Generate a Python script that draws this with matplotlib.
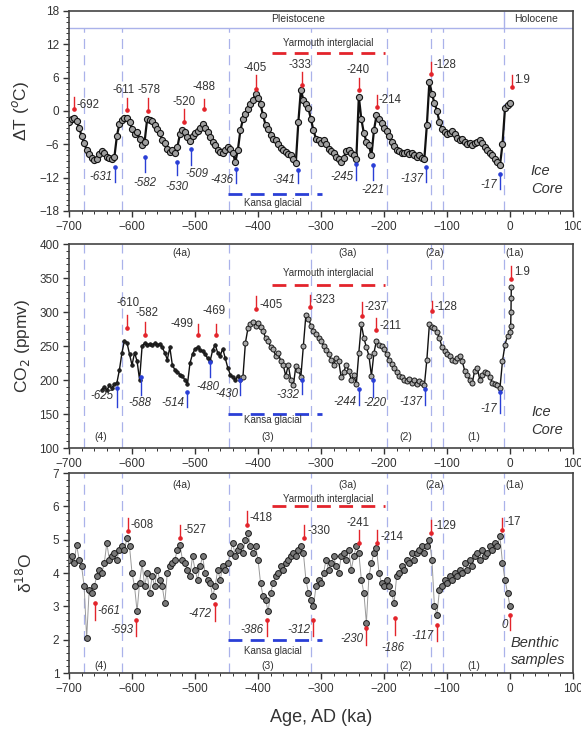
import numpy as np
import matplotlib.pyplot as plt
from matplotlib.ticker import MultipleLocator

plt.rcParams['font.family'] = ['Liberation Sans', 'DejaVu Sans']

TXT = '#333333'
RED = '#e3242b'
BLUE = '#2a3fd6'
GUIDE = '#aab2ea'

# ---- data ----
# Ice core temperature anomaly, sampled every 4 ka from -700 to 0 ka
ice_age = np.arange(-700, 1, 4)
ice_dT = [
    -2.0, -1.5, -1.2, -1.8, -3.0, -4.5, -5.8, -7.0, -7.8, -8.5,
    -8.9, -8.6, -7.8, -7.2, -7.6, -8.2, -8.5, -8.6, -8.3, -4.5,
    -2.3, -1.6, -1.2, -1.3, -2.0, -3.2, -4.2, -3.8, -5.0, -6.2,
    -5.5, -1.5, -1.6, -1.8, -2.5, -3.2, -4.0, -5.2, -5.8, -6.8,
    -7.3, -7.0, -7.6, -6.5, -4.2, -3.4, -3.8, -4.6, -5.4, -4.5,
    -4.0, -3.6, -3.0, -2.3, -3.0, -3.8, -4.6, -5.5, -6.2, -7.0,
    -7.3, -7.5, -7.0, -6.5, -6.8, -7.5, -9.2, -7.0, -3.5, -1.5,
    -0.5, 0.3, 1.2, 2.0, 3.0, 2.4, 1.2, -0.8, -2.5, -3.2,
    -4.3, -5.0, -5.2, -6.0, -6.6, -7.0, -7.4, -7.8, -8.0, -8.6,
    -9.3, -2.0, 3.8, 2.0, 1.2, 0.5, -1.5, -3.5, -5.0, -5.3,
    -5.8, -5.2, -6.0, -6.8, -7.2, -7.6, -8.2, -8.6, -9.2, -8.4,
    -7.2, -7.0, -7.6, -8.0, -8.7, 2.6, -1.5, -4.0, -5.5, -6.2,
    -8.0, -3.5, -0.8, -1.5, -2.2, -3.0, -3.6, -4.5, -5.5, -6.3,
    -7.0, -7.2, -7.5, -7.6, -7.3, -7.8, -7.6, -8.0, -8.2, -8.0,
    -8.4, -8.6, -2.5, 5.3, 3.0, 1.5, 0.0, -2.0, -3.2, -3.8,
    -4.2, -4.0, -3.6, -4.2, -4.8, -5.3, -5.0, -5.6, -6.0, -5.8,
    -6.2, -5.8, -5.5, -5.2, -5.8, -6.5, -7.0, -7.6, -8.0, -8.6,
    -9.2, -9.8, -6.0, 0.5, 1.0, 1.5,
]

# Ice core CO2, every 4 ka from -648 to 0 ka plus the modern rise
co2_age = np.concatenate([np.arange(-648, 1, 4), [1.0, 1.5, 1.8, 2.0]])
co2_ppm = [
    186, 190, 185, 192, 188, 194, 196, 215, 240, 258,
    255, 238, 222, 240, 228, 200, 250, 254, 252, 253,
    251, 254, 252, 253, 248, 240, 230, 248, 222, 215,
    212, 208, 206, 200, 194, 225, 238, 246, 248, 244,
    242, 238, 232, 228, 244, 252, 240, 236, 246, 232,
    218, 208, 204, 200, 206, 200, 204, 255, 276, 282,
    286, 280, 284, 278, 272, 262, 258, 248, 245, 236,
    240, 228, 222, 206, 222, 200, 192, 220, 215, 205,
    250, 296, 290, 280, 272, 268, 262, 258, 250, 244,
    238, 230, 222, 232, 228, 204, 212, 222, 214, 200,
    208, 194, 240, 282, 262, 248, 236, 206, 240, 258,
    252, 250, 246, 238, 230, 224, 218, 212, 206, 204,
    200, 198, 202, 196, 200, 194, 198, 196, 192, 230,
    282, 278, 276, 270, 262, 248, 242, 238, 236, 230,
    228, 232, 236, 228, 214, 208, 200, 196, 214, 218,
    200, 208, 212, 210, 205, 196, 194, 192, 188, 228,
    252, 265, 270,
    280, 300, 320, 337,
]

# Benthic d18O, every 4 ka from -700 to 0 ka
benthic_age = np.arange(-700, 1, 4)
benthic_d18o = [
    4.4, 4.5, 4.3, 4.85, 4.4, 4.2, 3.6, 2.05, 3.5, 3.4,
    3.6, 3.9, 4.1, 4.0, 4.3, 4.9, 4.4, 4.5, 4.6, 4.4,
    4.7, 4.8, 4.7, 5.05, 4.8, 4.0, 3.6, 2.85, 3.7, 4.3,
    3.6, 4.0, 3.4, 3.9, 3.6, 4.1, 3.8, 3.6, 3.1, 4.0,
    4.2, 4.3, 4.4, 4.7, 4.85, 4.4, 4.3, 4.1, 3.9, 4.5,
    4.1, 3.8, 4.2, 4.5, 4.0, 3.8, 3.7, 3.3, 3.6, 4.1,
    3.8, 4.2, 4.1, 4.3, 4.6, 4.9, 4.5, 4.7, 4.8, 4.6,
    5.0, 5.2, 4.8, 4.6, 4.8, 4.4, 3.7, 3.3, 3.2, 2.85,
    3.4, 3.7, 3.9, 4.0, 4.2, 4.1, 4.3, 4.4, 4.5, 4.6,
    4.5, 4.7, 4.8, 4.6, 3.8, 3.4, 3.2, 3.0, 3.6, 3.8,
    3.7, 4.0, 4.4, 4.1, 4.3, 4.5, 4.2, 4.0, 4.5, 4.6,
    4.4, 4.7, 4.1, 4.5, 4.8, 4.6, 3.8, 3.4, 2.5, 3.9,
    4.3, 4.6, 4.75, 4.0, 3.7, 3.6, 3.8, 3.6, 3.4, 3.1,
    3.9, 4.0, 4.2, 4.1, 4.4, 4.3, 4.6, 4.4, 4.6, 4.7,
    4.8, 4.6, 4.8, 5.0, 4.4, 3.0, 2.75, 3.5, 3.6, 3.8,
    3.7, 3.9, 3.8, 4.0, 3.9, 4.1, 4.0, 4.3, 4.1, 4.4,
    4.2, 4.5, 4.6, 4.4, 4.7, 4.5, 4.6, 4.8, 4.7, 4.9,
    4.8, 5.1, 4.3, 3.8, 3.4, 3.0,
]

guide_ages = [-676, -616, -446, -316, -196, -126, -107, -10]

# annotations: (label, x, arrow tip, arrow tail, label x, label y, ha)
dT_peaks = [
    ("-692", -692, 0.3, 2.5, -688, 1.0, 'left'),
    ("-611", -608, 0.1, 2.4, -613, 3.8, 'center'),
    ("-578", -575, 0.0, 2.4, -573, 3.8, 'center'),
    ("-520", -517, -2.0, 0.4, -518, 1.7, 'center'),
    ("-488", -486, 0.4, 2.2, -486, 4.4, 'center'),
    ("-405", -403, 4.0, 6.4, -405, 7.7, 'center'),
    ("-333", -331, 4.6, 7.0, -333, 8.3, 'center'),
    ("-240", -240, 3.8, 6.0, -241, 7.3, 'center'),
    ("-214", -211, 0.7, 2.8, -208, 2.0, 'left'),
    ("-128", -126, 6.7, 8.8, -122, 8.2, 'left'),
    ("1.9", 3, 4.3, 6.4, 7, 5.5, 'left'),
]
dT_lows = [
    ("-631", -627, -10.1, -12.8, -631, -11.9, 'right'),
    ("-582", -580, -8.3, -11.0, -580, -13.0, 'center'),
    ("-530", -529, -9.2, -11.6, -529, -13.7, 'center'),
    ("-509", -506, -6.8, -9.8, -497, -11.4, 'center'),
    ("-436", -435, -10.4, -12.9, -439, -12.5, 'right'),
    ("-341", -337, -10.7, -13.0, -341, -12.5, 'right'),
    ("-245", -244, -9.5, -12.5, -248, -11.8, 'right'),
    ("-221", -218, -9.8, -12.5, -218, -14.3, 'center'),
    ("-137", -134, -10.1, -12.8, -138, -12.2, 'right'),
    ("-17", -16, -11.3, -14.0, -20, -13.4, 'right'),
]
co2_peaks = [
    ("-610", -608, 276, 296, -606, 313, 'center'),
    ("-582", -579, 266, 286, -576, 298, 'center'),
    ("-499", -496, 266, 283, -502, 282, 'right'),
    ("-469", -467, 266, 283, -469, 302, 'center'),
    ("-405", -403, 304, 323, -398, 311, 'left'),
    ("-323", -318, 307, 325, -313, 318, 'left'),
    ("-237", -235, 294, 314, -231, 308, 'left'),
    ("-211", -212, 274, 291, -207, 280, 'left'),
    ("-128", -124, 301, 316, -120, 308, 'left'),
    ("1.9", 2, 348, 367, 6, 359, 'left'),
]
co2_lows = [
    ("-625", -624, 188, 160, -629, 176, 'right'),
    ("-588", -585, 205, 178, -587, 166, 'center'),
    ("-514", -512, 183, 160, -517, 166, 'right'),
    ("-480", -477, 226, 205, -480, 190, 'center'),
    ("-430", -428, 200, 178, -431, 179, 'right'),
    ("-332", -331, 200, 180, -335, 178, 'right'),
    ("-244", -240, 187, 163, -244, 168, 'right'),
    ("-220", -217, 200, 175, -214, 166, 'center'),
    ("-137", -135, 187, 163, -139, 168, 'right'),
    ("-17", -16, 183, 151, -20, 158, 'right'),
]
d18o_peaks = [
    ("-608", -607, 5.25, 5.65, -602, 5.45, 'left'),
    ("-527", -524, 5.05, 5.45, -519, 5.28, 'left'),
    ("-418", -418, 5.45, 5.85, -413, 5.65, 'left'),
    ("-330", -327, 5.05, 5.45, -322, 5.25, 'left'),
    ("-241", -239, 4.9, 5.3, -241, 5.5, 'center'),
    ("-214", -211, 4.9, 5.3, -206, 5.08, 'left'),
    ("-129", -126, 5.2, 5.6, -121, 5.4, 'left'),
    ("-17", -13, 5.3, 5.65, -8, 5.52, 'left'),
]
d18o_lows = [
    ("-661", -659, 3.1, 2.6, -655, 2.85, 'left'),
    ("-593", -594, 2.58, 2.1, -598, 2.28, 'right'),
    ("-472", -469, 3.08, 2.55, -474, 2.78, 'right'),
    ("-386", -386, 2.58, 2.1, -391, 2.28, 'right'),
    ("-312", -312, 2.6, 2.1, -317, 2.28, 'right'),
    ("-230", -228, 2.35, 1.85, -233, 2.02, 'right'),
    ("-186", -182, 2.65, 2.15, -186, 1.75, 'center'),
    ("-117", -116, 2.45, 1.95, -121, 2.1, 'right'),
    ("0", -0.5, 2.75, 2.3, -4, 2.43, 'right'),
]

top_regions = [("(4a)", -521), ("(3a)", -257), ("(2a)", -119), ("(1a)", 8)]
bottom_regions = [("(4)", -650), ("(3)", -385), ("(2)", -166), ("(1)", -57)]


def style_axis(ax, ylim, major, minor):
    ax.set_xlim(-700, 100)
    ax.set_ylim(*ylim)
    ax.xaxis.set_major_locator(MultipleLocator(100))
    ax.xaxis.set_minor_locator(MultipleLocator(20))
    ax.yaxis.set_major_locator(MultipleLocator(major))
    ax.yaxis.set_minor_locator(MultipleLocator(minor))
    ax.tick_params(which='both', direction='out', top=False, right=False,
                   labelsize=8.5, colors=TXT, pad=3)
    ax.tick_params(which='major', length=4, width=1.0)
    ax.tick_params(which='minor', length=2.2, width=0.7)
    for s in ax.spines.values():
        s.set_linewidth(1.2)
        s.set_color('#444444')


def draw_arrows(ax, items, color, italic):
    for label, x, tip, tail, lx, ly, ha in items:
        ax.plot([x, x], [tail, tip], color=color, lw=1.0, zorder=4)
        ax.plot([x], [tip], 'o', color=color, ms=2.3, zorder=4)
        ax.text(lx, ly, label, ha=ha, va='center', fontsize=8.3, color=TXT,
                style='italic' if italic else 'normal', zorder=5)


def draw_periods(ax, y_yar, y_kan, yar_text_y, kan_text_y):
    ax.plot([-378, -198], [y_yar, y_yar], color=RED, lw=2.0,
            ls=(0, (5, 3)), zorder=3)
    ax.text(-288, yar_text_y, "Yarmouth interglacial", ha='center',
            va='center', fontsize=7, color=TXT)
    ax.plot([-447, -298], [y_kan, y_kan], color=BLUE, lw=2.0,
            ls=(0, (5, 3)), zorder=3)
    ax.text(-377, kan_text_y, "Kansa glacial", ha='center', va='center',
            fontsize=7, color=TXT)


fig = plt.figure(figsize=(5.81, 7.31), dpi=100)
ax1 = fig.add_axes([0.1188, 0.7114, 0.8675, 0.2736])
ax2 = fig.add_axes([0.1188, 0.3871, 0.8675, 0.2791])
ax3 = fig.add_axes([0.1188, 0.0793, 0.8675, 0.2736])

# ---- panel 1: temperature ----
style_axis(ax1, (-18, 18), 6, 1)
ax1.vlines(guide_ages, -18, 15, colors=GUIDE, linestyles=(0, (8, 5)),
           lw=0.9, zorder=1)
ax1.vlines(guide_ages[-1], 15, 18, colors=GUIDE, lw=1.0, zorder=1)
ax1.axhline(15, color=GUIDE, lw=1.0, zorder=1)
ax1.text(-336, 16.6, "Pleistocene", ha='center', va='center', fontsize=7.5,
         color=TXT)
ax1.text(42, 16.6, "Holocene", ha='center', va='center', fontsize=7.5,
         color=TXT)
ax1.plot(ice_age, ice_dT, '-', color='#111111', lw=1.6, marker='o', ms=4.4,
         mfc='#a0a0a0', mec='#111111', mew=0.8, zorder=3)
draw_periods(ax1, 10.5, -15, 12.3, -16.6)
draw_arrows(ax1, dT_peaks, RED, False)
draw_arrows(ax1, dT_lows, BLUE, True)
ax1.text(33, -12.5, "Ice\nCore", ha='left', va='center', fontsize=10.5,
         style='italic', color=TXT, linespacing=1.35)
ax1.set_ylabel("ΔT ($^o$C)", fontsize=12.5, color=TXT)
ax1.yaxis.set_label_coords(-0.075, 0.5)

# ---- panel 2: CO2 ----
style_axis(ax2, (100, 400), 50, 10)
ax2.vlines(guide_ages, 100, 400, colors=GUIDE, linestyles=(0, (8, 5)),
           lw=0.9, zorder=1)
ax2.plot(co2_age, co2_ppm, '-', color='#111111', lw=1.0, zorder=2)
early = co2_age < -424
ax2.plot(co2_age[early], np.array(co2_ppm)[early], 'o', ms=2.6,
         mfc='#222222', mec='#111111', mew=0.5, zorder=3)
ax2.plot(co2_age[~early], np.array(co2_ppm)[~early], 'o', ms=3.6,
         mfc='#a8a8a8', mec='#1a1a1a', mew=0.7, zorder=3)
draw_periods(ax2, 340, 150, 358, 141)
draw_arrows(ax2, co2_peaks, RED, False)
draw_arrows(ax2, co2_lows, BLUE, True)
for label, x in top_regions:
    ax2.text(x, 387, label, ha='center', va='center', fontsize=7.5, color=TXT)
for label, x in bottom_regions:
    ax2.text(x, 116, label, ha='center', va='center', fontsize=7.5, color=TXT)
ax2.text(34, 140, "Ice\nCore", ha='left', va='center', fontsize=10.5,
         style='italic', color=TXT, linespacing=1.35)
ax2.set_ylabel("CO$_2$ (ppmv)", fontsize=12.5, color=TXT)
ax2.yaxis.set_label_coords(-0.073, 0.5)

# ---- panel 3: benthic d18O ----
style_axis(ax3, (1, 7), 1, 0.2)
ax3.vlines(guide_ages, 1, 7, colors=GUIDE, linestyles=(0, (8, 5)),
           lw=0.9, zorder=1)
ax3.plot(benthic_age, benthic_d18o, '-', color='#9a9a9a', lw=0.7, zorder=2)
ax3.plot(benthic_age, benthic_d18o, 'o', ms=4.2, mfc='#7a7a7a',
         mec='#1a1a1a', mew=0.7, zorder=3)
draw_periods(ax3, 6, 2, 6.22, 1.66)
draw_arrows(ax3, d18o_peaks, RED, False)
draw_arrows(ax3, d18o_lows, RED, True)
for label, x in top_regions:
    ax3.text(x, 6.65, label, ha='center', va='center', fontsize=7.5, color=TXT)
for label, x in bottom_regions:
    ax3.text(x, 1.2, label, ha='center', va='center', fontsize=7.5, color=TXT)
ax3.text(1, 1.65, "Benthic\nsamples", ha='left', va='center', fontsize=10.5,
         style='italic', color=TXT, linespacing=1.3)
ax3.set_ylabel("δ$^{18}$O", fontsize=12.5, color=TXT)
ax3.yaxis.set_label_coords(-0.067, 0.5)

fig.text(0.5525, 1 - 718 / 731, "Age, AD (ka)", ha='center', va='center',
         fontsize=13, color=TXT)

fig.savefig("out.png", dpi=100)
